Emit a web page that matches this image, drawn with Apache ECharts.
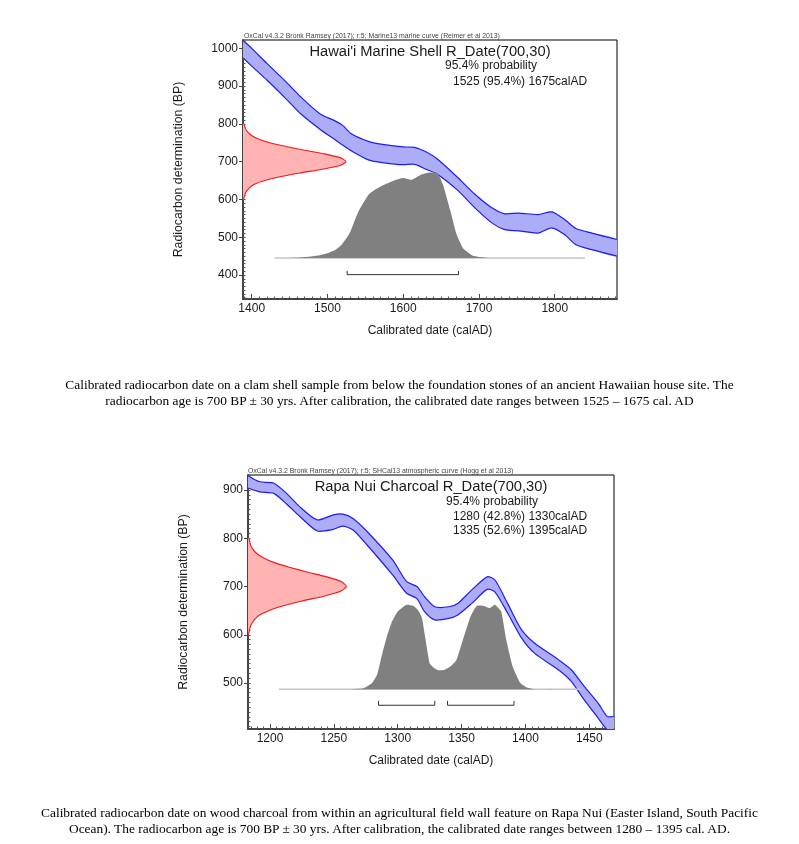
<!DOCTYPE html>
<html>
<head>
<meta charset="utf-8">
<script src="https://cdn.jsdelivr.net/npm/echarts@6/dist/echarts.min.js"></script>
<style>
html,body{margin:0;padding:0;background:#fff;width:799px;height:844px;overflow:hidden}
#chart{position:absolute;left:0;top:0;width:799px;height:844px}
.cap{position:absolute;left:0;width:799px;text-align:center;font-family:"Liberation Serif","Times New Roman",serif;font-size:13.4px;line-height:16px;color:#000;white-space:nowrap}
</style>
</head>
<body>
<div id="chart"></div>
<div class="cap" style="top:377px">Calibrated radiocarbon date on a clam shell sample from below the foundation stones of an ancient Hawaiian house site. The<br>radiocarbon age is 700 BP ± 30 yrs. After calibration, the calibrated date ranges between 1525 – 1675 cal. AD</div>
<div class="cap" style="top:805px">Calibrated radiocarbon date on wood charcoal from within an agricultural field wall feature on Rapa Nui (Easter Island, South Pacific<br>Ocean). The radiocarbon age is 700 BP ± 30 yrs. After calibration, the calibrated date ranges between 1280 – 1395 cal. AD.</div>
<script>
// ---------- Chart 1: Hawai'i Marine Shell (Marine13) ----------
const hawXTicks = [1400, 1500, 1600, 1700, 1800];
const hawYTicks = [400, 500, 600, 700, 800, 900, 1000];
const hawCurveYears = [1389,1400,1420,1445,1465,1490,1510,1520,1532,1555,1575,1600,1615,1630,1645,1672,1695,1717,1734,1752,1778,1796,1813,1828,1849,1882];
const hawCurveUpper = [1020,1000,960,912,871,827,808,796,773,753,745,739,738,726,707,658,613,578,562,564,560,567,547,523,511,494];
const hawCurveLower = [974,953,916,867,826,786,758,744,728,704,697,692,693,680,667,624,577,538,520,517,511,525,507,480,467,450];
const hawProbYears = [1430,1460,1479,1490,1501,1510,1519,1525,1530,1541,1554,1563,1576,1589,1600,1611,1624,1635,1644,1648,1653,1662,1670,1679,1692,1708,1720,1840];
const hawProbBP    = [445,446,449,452,458,466,481,497,514,569,612,626,640,651,657,652,666,671,671,660,636,572,510,471,451,446,445,445];
const hawProbBase = 445;
const hawRanges = [[1526, 1673]];
const hawRangeBP = 401;

// ---------- Chart 2: Rapa Nui Charcoal (SHCal13) ----------
const rapXTicks = [1200, 1250, 1300, 1350, 1400, 1450];
const rapYTicks = [500, 600, 700, 800, 900];
const rapCurveYears = [1183,1192,1203,1213,1223,1237,1249,1257,1265,1276,1296,1307,1315,1321,1329,1340,1347,1358,1370,1376,1386,1397,1407,1426,1436,1446,1457,1464,1470];
const rapCurveUpper = [929,917,914,893,866,838,848,850,841,814,755,710,700,679,658,658,665,693,720,714,665,610,583,548,527,493,458,431,431];
const rapCurveLower = [904,896,893,871,846,815,818,825,817,786,724,686,675,648,631,634,641,665,694,689,645,593,562,527,503,465,427,403,395];
const rapProbYears = [1207,1260,1273,1280,1284,1288,1291,1295,1300,1307,1312,1316,1319,1321,1323,1325,1328,1331,1336,1341,1346,1351,1357,1362,1367,1372,1376,1381,1385,1390,1396,1401,1409,1444];
const rapProbBP    = [487,487,489,500,518,562,592,624,648,662,660,651,635,603,570,541,532,527,527,534,548,589,638,660,660,655,662,648,589,534,500,491,487,487];
const rapProbBase = 487;
const rapRanges = [[1285, 1329], [1339, 1391]];
const rapRangeBP = 454;

// ---------- R_Date(700,30) radiocarbon measurement (shared) ----------
const rDateBP   = [800,790,780,770,760,750,740,730,720,710,700,690,680,670,660,650,640,630,620,610,600];
const rDateDens = [0.01,0.02,0.04,0.08,0.15,0.26,0.42,0.6,0.8,0.95,1.0,0.94,0.77,0.55,0.36,0.21,0.11,0.06,0.03,0.015,0.005];

const FONT = '"Liberation Sans", Arial, sans-serif';
const TXT = '#1a1a1a';

const charts = [
  {grid:{left:243, top:40, width:374, height:259}, xmin:1388.5, xmax:1882.2, ymin:336.5, ymax:1022,
   xTicks:hawXTicks, yTicks:hawYTicks, xMinorStep:10, years:hawCurveYears, upper:hawCurveUpper, lower:hawCurveLower,
   pYears:hawProbYears, pBP:hawProbBP, pBase:hawProbBase, ranges:hawRanges, rangeBP:hawRangeBP, rangeTip:10, redPeak:136},
  {grid:{left:248, top:475, width:366, height:254}, xmin:1182.8, xmax:1469.3, ymin:404.8, ymax:931,
   xTicks:rapXTicks, yTicks:rapYTicks, xMinorStep:5, years:rapCurveYears, upper:rapCurveUpper, lower:rapCurveLower,
   pYears:rapProbYears, pBP:rapProbBP, pBase:rapProbBase, ranges:rapRanges, rangeBP:rapRangeBP, rangeTip:9, redPeak:77}
];

function stepValues(a, b, s) { const out = []; for (let v = Math.ceil(a / s) * s; v <= b; v += s) out.push(v); return out; }
const plain = v => String(Math.round(v));

const grids = [], xAxes = [], yAxes = [], series = [];
charts.forEach((c, gi) => {
  grids.push(Object.assign({show:true, borderColor:'#000', borderWidth:1, backgroundColor:'rgba(0,0,0,0)'}, c.grid));
  xAxes.push({type:'value', gridIndex:gi, min:c.xmin, max:c.xmax, position:'bottom',
    axisLine:{show:true, onZero:false, lineStyle:{color:'#444', width:2}},
    axisTick:{show:true, inside:true, length:5, customValues:c.xTicks, lineStyle:{color:'#444', width:1}},
    axisLabel:{show:true, customValues:c.xTicks, formatter:plain, fontSize:12, color:TXT, margin:4, fontFamily:FONT},
    splitLine:{show:false},
    name:'Calibrated date (calAD)', nameLocation:'middle', nameGap:26,
    nameTextStyle:{fontSize:12, color:TXT, fontFamily:FONT}});
  xAxes.push({type:'value', gridIndex:gi, min:c.xmin, max:c.xmax, position:'bottom',
    axisLine:{show:false, onZero:false},
    axisTick:{show:true, inside:true, length:2.5, customValues:stepValues(c.xmin, c.xmax, c.xMinorStep), lineStyle:{color:'#555', width:1}},
    axisLabel:{show:false}, splitLine:{show:false}});
  yAxes.push({type:'value', gridIndex:gi, min:c.ymin, max:c.ymax, position:'left',
    axisLine:{show:true, onZero:false, lineStyle:{color:'#444', width:2}},
    axisTick:{show:true, inside:false, length:4, customValues:c.yTicks, lineStyle:{color:'#444', width:1}},
    axisLabel:{show:true, customValues:c.yTicks, formatter:plain, fontSize:12, color:TXT, margin:5, fontFamily:FONT},
    splitLine:{show:false},
    name:'Radiocarbon determination (BP)', nameLocation:'middle', nameGap:58,
    nameTextStyle:{fontSize:12.3, color:TXT, fontFamily:FONT}});
  yAxes.push({type:'value', gridIndex:gi, min:c.ymin, max:c.ymax, position:'left',
    axisLine:{show:false, onZero:false},
    axisTick:{show:true, inside:true, length:2.5, customValues:stepValues(c.ymin, c.ymax, 10), lineStyle:{color:'#555', width:1}},
    axisLabel:{show:false}, splitLine:{show:false}});

  const xi = gi * 2, yi = gi * 2;
  // calibration curve band
  series.push({type:'custom', xAxisIndex:xi, yAxisIndex:yi, clip:true, z:2, silent:true,
    data:[[c.xmin, c.ymin]],
    renderItem:(p, api) => {
      const up = c.years.map((y, i) => api.coord([y, c.upper[i]]));
      const lo = c.years.map((y, i) => api.coord([y, c.lower[i]]));
      return {type:'group', children:[
        {type:'polygon', shape:{points:up.concat(lo.slice().reverse()), smooth:0.25}, style:{fill:'#adadf7', stroke:null}},
        {type:'polyline', shape:{points:up, smooth:0.25}, style:{stroke:'#1c1cf0', lineWidth:1.2, fill:null}},
        {type:'polyline', shape:{points:lo, smooth:0.25}, style:{stroke:'#1c1cf0', lineWidth:1.2, fill:null}}
      ]};
    }});
  // R_Date measurement (red, on BP axis)
  series.push({type:'custom', xAxisIndex:xi, yAxisIndex:yi, clip:true, z:3, silent:true,
    data:[[c.xmin, c.ymin]],
    renderItem:(p, api) => {
      const pts = rDateBP.map((b, i) => api.coord([c.xmin + rDateDens[i] * c.redPeak, b]));
      const poly = [api.coord([c.xmin, rDateBP[0]])].concat(pts, [api.coord([c.xmin, rDateBP[rDateBP.length - 1]])]);
      return {type:'group', children:[
        {type:'polygon', shape:{points:poly, smooth:0.2}, style:{fill:'#ffb3b3', stroke:null}},
        {type:'polyline', shape:{points:pts, smooth:0.2}, style:{stroke:'#f01818', lineWidth:1.1, fill:null}}
      ]};
    }});
  // calibrated probability distribution (grey)
  series.push({type:'custom', xAxisIndex:xi, yAxisIndex:yi, clip:true, z:4, silent:true,
    data:[[c.xmin, c.ymin]],
    renderItem:(p, api) => {
      const first = c.pYears[0], last = c.pYears[c.pYears.length - 1];
      const pts = c.pYears.map((y, i) => api.coord([y, c.pBP[i]]));
      const poly = [api.coord([first, c.pBase])].concat(pts, [api.coord([last, c.pBase])]);
      return {type:'group', children:[
        {type:'polyline', shape:{points:[api.coord([first, c.pBase]), api.coord([last, c.pBase])]}, style:{stroke:'#c4c4c4', lineWidth:1.5, fill:null}},
        {type:'polygon', shape:{points:poly, smooth:0.15}, style:{fill:'#808080', stroke:null}}
      ]};
    }});
  // 95.4% range brackets
  series.push({type:'custom', xAxisIndex:xi, yAxisIndex:yi, clip:true, z:4, silent:true,
    data:[[c.xmin, c.ymin]],
    renderItem:(p, api) => ({type:'group', children:c.ranges.map(r => ({type:'polyline',
      shape:{points:[api.coord([r[0], c.rangeBP + c.rangeTip]), api.coord([r[0], c.rangeBP]), api.coord([r[1], c.rangeBP]), api.coord([r[1], c.rangeBP + c.rangeTip])]},
      style:{stroke:'#333', lineWidth:1, fill:null}}))})});
});

function txt(x, y, s, size, align, color) {
  return {type:'text', x:x, y:y, z:10, silent:true,
    style:{text:s, font:size + 'px ' + FONT, fill:color || TXT, align:align || 'left', verticalAlign:'middle', textAlign:align || 'left', textVerticalAlign:'middle'}};
}

const graphic = [
  txt(244, 36, 'OxCal v4.3.2 Bronk Ramsey (2017); r:5; Marine13 marine curve (Reimer et al 2013)', 6.9, 'left', '#444'),
  txt(430, 52, "Hawai'i Marine Shell R_Date(700,30)", 14.7, 'center'),
  txt(445, 66, '95.4% probability', 12),
  txt(453, 81.5, '1525 (95.4%) 1675calAD', 12),
  txt(248, 471.5, 'OxCal v4.3.2 Bronk Ramsey (2017); r:5; SHCal13 atmospheric curve (Hogg et al 2013)', 6.9, 'left', '#444'),
  txt(431, 487, 'Rapa Nui Charcoal R_Date(700,30)', 14.7, 'center'),
  txt(446, 501.5, '95.4% probability', 12),
  txt(453, 516.5, '1280 (42.8%) 1330calAD', 12),
  txt(453, 531, '1335 (52.6%) 1395calAD', 12)
];

const chart = echarts.init(document.getElementById('chart'), null, {renderer:'canvas'});
chart.setOption({animation:false, backgroundColor:'#fff', grid:grids, xAxis:xAxes, yAxis:yAxes, series:series, graphic:graphic});
</script>
</body>
</html>
